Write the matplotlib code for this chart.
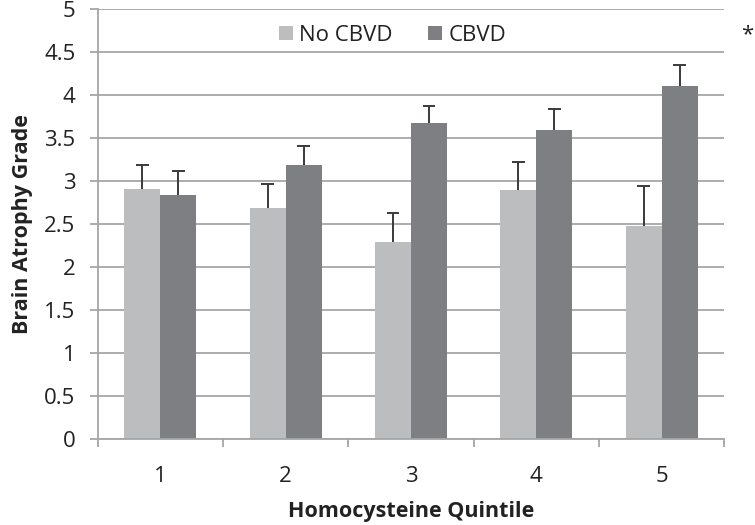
import matplotlib.pyplot as plt
import numpy as np
from matplotlib.ticker import FixedLocator

quintiles = ["1", "2", "3", "4", "5"]
no_cbvd = [2.91, 2.69, 2.29, 2.90, 2.48]
no_cbvd_err = [0.28, 0.28, 0.34, 0.32, 0.47]
cbvd = [2.84, 3.19, 3.68, 3.60, 4.11]
cbvd_err = [0.28, 0.22, 0.20, 0.24, 0.24]
y_ticks = [0, 0.5, 1, 1.5, 2, 2.5, 3, 3.5, 4, 4.5, 5]
y_tick_labels = ["0", "0.5", "1", "1.5", "2", "2.5", "3", "3.5", "4", "4.5", "5"]

LIGHT = "#bcbdbf"
DARK = "#7e7f83"
GRID = "#a6a6a6"
INK = "#222222"

plt.rcParams["font.family"] = ["Open Sans", "DejaVu Sans"]


def upper_errorbars(ax, xs, vals, errs, cap=0.05):
    xs = np.asarray(xs)
    tops = np.asarray(vals) + np.asarray(errs)
    ax.vlines(xs, vals, tops, colors="#3a3a3a", linewidth=1.4, zorder=3)
    ax.hlines(tops, xs - cap, xs + cap, colors="#3a3a3a", linewidth=1.4, zorder=3)


fig = plt.figure(figsize=(7.55, 5.25), dpi=100)
ax = fig.add_axes([0.1294, 0.1632, 0.8299, 0.8191])

x = np.arange(1, len(quintiles) + 1)
w = 0.287
ax.bar(x - w / 2, no_cbvd, width=w, color=LIGHT, label="No CBVD", zorder=2)
ax.bar(x + w / 2, cbvd, width=w, color=DARK, label="CBVD", zorder=2)
upper_errorbars(ax, x - w / 2, no_cbvd, no_cbvd_err)
upper_errorbars(ax, x + w / 2, cbvd, cbvd_err)

ax.set_xlim(0.5, 5.5)
ax.set_ylim(0, 5)
ax.set_yticks(y_ticks)
ax.set_yticklabels(y_tick_labels)
ax.grid(axis="y", color=GRID, linewidth=1.3, zorder=0)
ax.set_axisbelow(True)

ax.set_xticks(x)
ax.set_xticklabels(quintiles)
ax.xaxis.set_minor_locator(FixedLocator(np.arange(0.5, 6.0, 1.0)))
ax.tick_params(axis="x", which="major", length=0, pad=19, labelsize=16, colors=INK)
ax.tick_params(axis="x", which="minor", length=6, width=1.3, color=GRID)
ax.tick_params(axis="y", length=6, width=1.3, color=GRID, pad=10, labelsize=16,
               labelcolor=INK)

for side in ["top", "right"]:
    ax.spines[side].set_visible(False)
for side in ["left", "bottom"]:
    ax.spines[side].set_color(GRID)
    ax.spines[side].set_linewidth(1.3)

ax.set_ylabel("Brain Atrophy Grade", fontsize=15.5, fontweight="bold", color=INK, labelpad=8)
ax.set_xlabel("Homocysteine Quintile", fontsize=15.5, fontweight="bold", color=INK, labelpad=10)

fig.legend(loc="center", bbox_to_anchor=(0.52, 0.933), ncol=2, frameon=False,
           fontsize=16, handlelength=0.6, handleheight=0.6, handletextpad=0.3,
           columnspacing=1.6, labelcolor=INK)

fig.text(0.99, 0.933, "*", fontsize=16, ha="center", va="center", color=INK)

fig.savefig("out.png", dpi=100)
